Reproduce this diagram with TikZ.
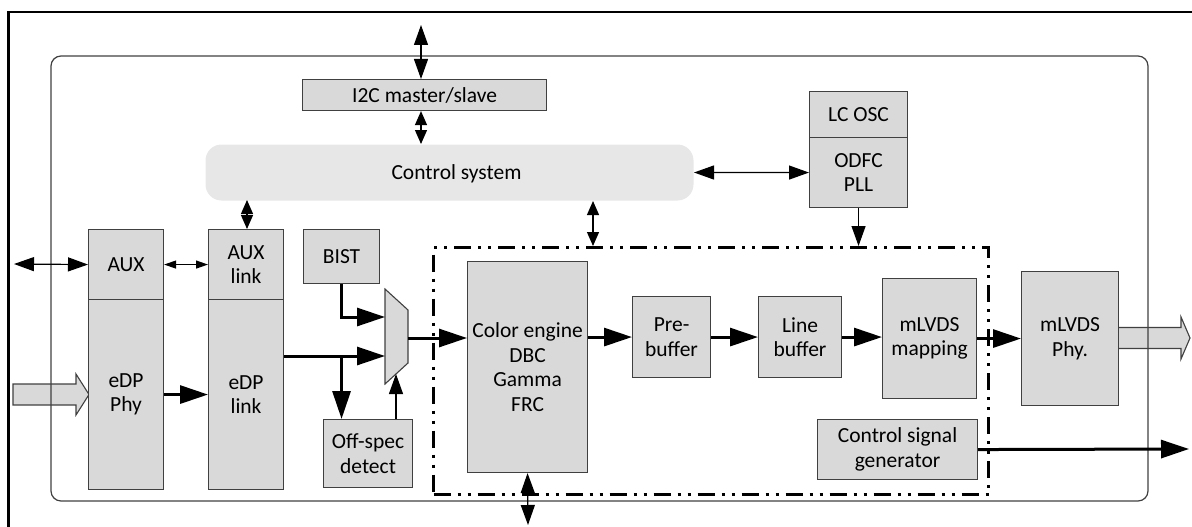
\documentclass[tikz,border=0pt]{standalone}
\usepackage{fontspec}
\setmainfont{Carlito}
\usetikzlibrary{arrows.meta}
\definecolor{boxfill}{RGB}{217,217,217}
\definecolor{ctrlfill}{RGB}{231,231,231}
\definecolor{boxline}{RGB}{64,64,64}
\newcommand{\blkfont}{\fontsize{21.5}{24.5}\selectfont}
\tikzset{every picture/.style={line width=1pt},
  blk/.style={draw=boxline, fill=boxfill, line width=1.1pt, inner sep=2pt, align=center, anchor=north west, font=\blkfont},
  thinarr/.style={line width=1.2pt, -{Triangle[length=20pt,width=14pt]}},
  dblarr/.style={line width=1.2pt, {Triangle[length=20pt,width=14pt]}-{Triangle[length=20pt,width=14pt]}},
  dblshort/.style={line width=1.2pt, {Triangle[length=14pt,width=12pt]}-{Triangle[length=14pt,width=12pt]}},
  dblsmall/.style={line width=1.2pt, {Triangle[length=12pt,width=8pt]}-{Triangle[length=12pt,width=8pt]}},
  thickarr/.style={line width=3pt, -{Triangle[length=28pt,width=18pt]}},
  fatarr/.style={draw=boxline, fill=boxfill, line width=1.1pt},
  coredash/.style={draw, line width=3pt, dash pattern=on 17pt off 7pt on 3pt off 7pt on 3pt off 7pt}}

\begin{document}
\begin{tikzpicture}[x=1pt,y=1pt,yscale=-1,xscale=1]
        \useasboundingbox (0,0) rectangle (1192,527);
        %outer frame
        \draw [line width=2.5pt] (8.5,527) -- (8.5,12) -- (1192,12) ;

        %fat input and output arrows
        \draw [fatarr] (13,384) -- (76,384) -- (76,374) -- (89,394.5) -- (76,415) -- (76,405) -- (13,405) -- cycle ;
        \draw [fatarr] (1118,327.5) -- (1181,327.5) -- (1181,317) -- (1190,338) -- (1181,359) -- (1181,348.5) -- (1118,348.5) -- cycle ;

        %chip outline
        \draw [draw=boxline, line width=1.2pt, rounded corners=10pt] (51,56) rectangle (1148,501) ;

        %core dash-dot region
        \node [coredash, minimum width=555pt, minimum height=247pt, anchor=north west, inner sep=0pt] (core) at (432,246) {};

        %blocks
        \node [blk, minimum width=244pt, minimum height=31pt] (i2c) at (302,79) {I2C master/slave};
        \node [fill=ctrlfill, rounded corners=16pt, minimum width=488pt, minimum height=56pt, anchor=north west, font=\blkfont, text depth=0pt] (ctrl) at (205,144) {\hspace*{14pt}Control system};
        \node [blk, minimum width=98pt, minimum height=46pt] (lcosc) at (809,91) {LC OSC};
        \node [blk, minimum width=98pt, minimum height=70pt] (odfc) at (809,137) {ODFC\\PLL};
        \node [blk, minimum width=75pt, minimum height=70pt] (aux) at (88,229) {AUX};
        \node [blk, minimum width=75pt, minimum height=190pt] (phy) at (88,299) {eDP\\Phy};
        \node [blk, minimum width=75pt, minimum height=70pt] (auxl) at (208,229) {AUX\\link};
        \node [blk, minimum width=75pt, minimum height=190pt] (link) at (208,299) {eDP\\link};
        \node [blk, minimum width=76pt, minimum height=54pt] (bist) at (303,229) {BIST};
        \node [blk, minimum width=89pt, minimum height=68pt] (offs) at (323,419) {Off-spec\\detect};
        \node [blk, minimum width=120pt, minimum height=211pt] (color) at (467,261) {Color engine\\DBC\\Gamma\\FRC};
        \node [blk, minimum width=78pt, minimum height=81pt] (pre) at (632,296) {Pre-\\buffer};
        \node [blk, minimum width=83pt, minimum height=81pt] (line) at (758,296) {Line\\buffer};
        \node [blk, minimum width=94pt, minimum height=120pt] (map) at (882,278) {mLVDS\\mapping};
        \node [blk, minimum width=97pt, minimum height=134pt] (lphy) at (1021,271) {mLVDS\\Phy.};
        \node [blk, minimum width=160pt, minimum height=60pt] (csg) at (817,419) {Control signal\\generator};

        %mux
        \draw [fatarr] (385,289) -- (408,310) -- (408,363) -- (385,384) -- cycle ;
        \coordinate (mux1) at (385,317);
        \coordinate (mux2) at (385,356);
        \coordinate (muxo) at (408,338);
        \coordinate (muxb) at (396,374);

        %free ends
        \coordinate (i2ctop) at (421,25);
        \coordinate (auxin) at (14,264);
        \coordinate (csx) at (593,0);
        \coordinate (csgout) at (1189,449);
        \coordinate (colorout) at (528,525);

        %control connectors
        \draw [dblarr] (i2ctop) -- (i2ctop |- i2c.north) ;
        \draw [dblshort] (i2ctop |- i2c.south) -- (i2ctop |- ctrl.north) ;
        \draw [dblarr] (ctrl.east) -- (odfc.west) ;
        \draw [thinarr] (odfc.south) -- (odfc.south |- core.north) ;
        \draw [dblshort] (csx |- ctrl.south) -- (csx |- core.north) ;
        \draw [dblshort] (auxl.north -| 247,0) -- (247,200) ;
        \draw [dblarr] (auxin) -- (aux.west) ;
        \draw [dblsmall] (aux.east) -- (auxl.west) ;
        \draw [dblarr] (color.south) -- (colorout) ;

        %data path
        \draw [thickarr] (phy.east) -- (link.west) ;
        \draw [thickarr] (bist.south) |- (mux1) ;
        \draw [thickarr] (link.east |- mux2) -- (mux2) ;
        \draw [thickarr] (bist.south |- mux2) -- (bist.south |- offs.north) ;
        \draw [thinarr] (muxb |- offs.north) -- (muxb) ;
        \draw [thickarr] (muxo) -- (color.west |- muxo) ;
        \draw [thickarr] (color.east |- pre.west) -- (pre.west) ;
        \draw [thickarr] (pre.east) -- (line.west) ;
        \draw [thickarr] (line.east) -- (map.west |- line.east) ;
        \draw [thickarr] (map.east) -- (lphy.west) ;
        \draw [thickarr] (csg.east) -- (csgout) ;
\end{tikzpicture}
\end{document}
